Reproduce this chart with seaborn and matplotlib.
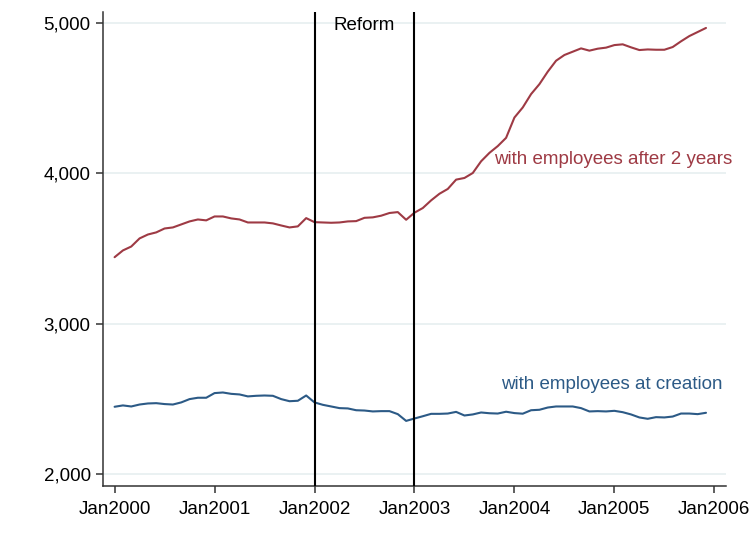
"""
plot.py
-------
Monthly count of new firms, with employees at creation vs. after 2 years,
Jan2000 - Dec2005, with the reform window (2002) marked.
"""

import matplotlib
matplotlib.use("Agg")
import matplotlib.pyplot as plt
import matplotlib.ticker as mticker
import seaborn as sns
import pandas as pd

# ── Data ─────────────────────────────────────────────────────────────────────
months = list(range(72))  # 0 = Jan2000 ... 71 = Dec2005

after_2_years = [
    3442, 3487, 3513, 3567, 3593, 3607, 3633, 3640, 3660, 3680, 3693, 3687,
    3713, 3713, 3700, 3693, 3673, 3673, 3673, 3667, 3653, 3640, 3647, 3702,
    3675, 3673, 3671, 3673, 3680, 3682, 3704, 3707, 3718, 3736, 3742, 3691,
    3738, 3769, 3820, 3864, 3896, 3958, 3969, 4002, 4080, 4136, 4181, 4236,
    4371, 4438, 4527, 4593, 4676, 4749, 4787, 4809, 4831, 4816, 4829, 4836,
    4853, 4858, 4838, 4820, 4824, 4822, 4822, 4840, 4878, 4913, 4940, 4967,
]

at_creation = [
    2447, 2456, 2449, 2462, 2469, 2471, 2465, 2462, 2476, 2498, 2507, 2507,
    2538, 2542, 2533, 2529, 2516, 2520, 2522, 2520, 2498, 2484, 2487, 2522,
    2476, 2460, 2449, 2438, 2436, 2424, 2422, 2416, 2418, 2418, 2398, 2353,
    2369, 2384, 2400, 2400, 2402, 2413, 2389, 2396, 2409, 2404, 2402, 2414,
    2405, 2401, 2424, 2427, 2442, 2449, 2449, 2449, 2438, 2416, 2418, 2416,
    2420, 2411, 2396, 2376, 2367, 2378, 2376, 2382, 2402, 2402, 2398, 2407,
]

series_labels = ["with employees after 2 years", "with employees at creation"]
tick_months = [0, 12, 24, 36, 48, 60, 72]
tick_labels = ["Jan2000", "Jan2001", "Jan2002", "Jan2003", "Jan2004", "Jan2005", "Jan2006"]
y_ticks = [2000, 3000, 4000, 5000]
reform_months = [24, 36]

# ── Styling ──────────────────────────────────────────────────────────────────
sns.set_theme(style="white")
plt.rcParams["font.family"] = ["Liberation Sans", "DejaVu Sans"]
RED = "#9E3A44"
BLUE = "#2C5A86"
FONT_SIZE = 13.5
DPI = 100

df = pd.DataFrame({
    "month": months * 2,
    "value": after_2_years + at_creation,
    "series": [series_labels[0]] * len(months) + [series_labels[1]] * len(months),
})

fig = plt.figure(figsize=(7.51, 5.46), dpi=DPI)
ax = fig.add_axes([0.1365, 0.1099, 0.8302, 0.8681])

# light horizontal grid at y ticks
for y in y_ticks:
    ax.axhline(y, color="#E8F0F1", linewidth=1.3, zorder=0)

sns.lineplot(
    data=df, x="month", y="value", hue="series",
    palette=[RED, BLUE], linewidth=1.5, legend=False, ax=ax,
)

# Reform window
for m in reform_months:
    ax.axvline(m, color="black", linewidth=1.5, zorder=3)
ax.text(sum(reform_months) / 2, 4985, "Reform", ha="center", va="center",
        fontsize=FONT_SIZE, color="black")

# series labels
ax.text(74.1, 4090, series_labels[0], ha="right", va="center",
        fontsize=FONT_SIZE, color=RED, clip_on=False)
ax.text(73.0, 2592, series_labels[1], ha="right", va="center",
        fontsize=FONT_SIZE, color=BLUE, clip_on=False)

ax.set_xlim(-1.45, 73.4)
ax.set_ylim(1920, 5073)
ax.set_xticks(tick_months)
ax.set_xticklabels(tick_labels)
ax.set_yticks(y_ticks)
ax.yaxis.set_major_formatter(mticker.FuncFormatter(lambda v, _: f"{v:,.0f}"))
ax.set_xlabel("")
ax.set_ylabel("")

for side in ["top", "right"]:
    ax.spines[side].set_visible(False)
for side in ["left", "bottom"]:
    ax.spines[side].set_color("#333333")
    ax.spines[side].set_linewidth(1.1)
ax.tick_params(axis="both", which="major", direction="out", length=5,
               width=1.1, color="#333333", labelsize=FONT_SIZE, labelcolor="black",
               left=True, bottom=True)
ax.tick_params(axis="x", pad=5.5)
ax.tick_params(axis="y", pad=3.5)

fig.savefig("out.png", dpi=DPI)
plt.close(fig)
